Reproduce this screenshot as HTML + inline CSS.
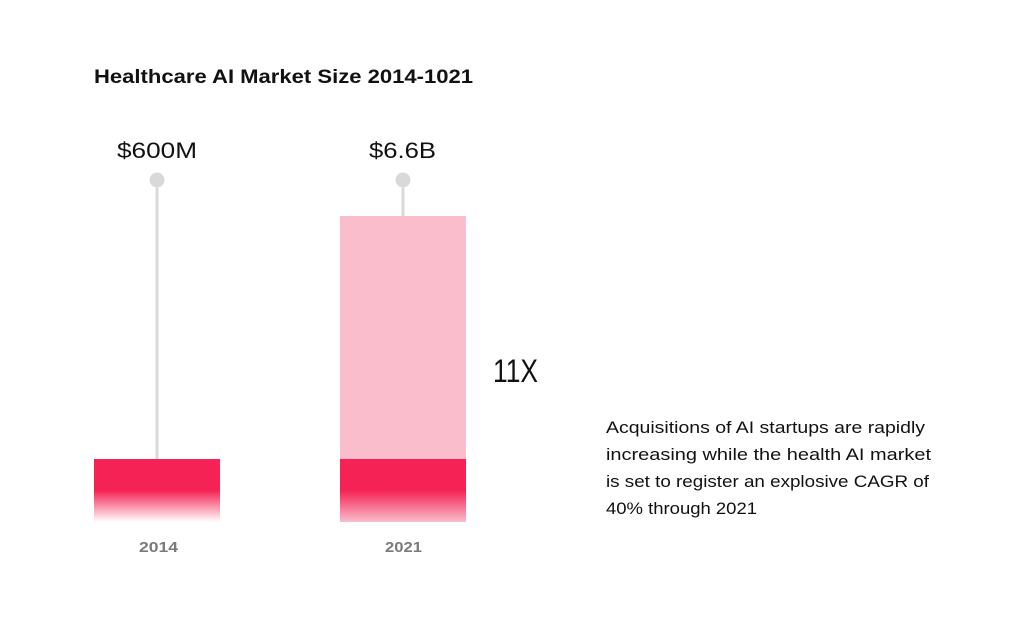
<!DOCTYPE html>
<html>
<head>
<meta charset="utf-8">
<style>
  html, body { margin: 0; padding: 0; background: #ffffff; }
  svg { display: block; }
  text { font-family: "Liberation Sans", "DejaVu Sans", sans-serif; }
</style>
</head>
<body>
<svg width="1024" height="622" viewBox="0 0 1024 622" xmlns="http://www.w3.org/2000/svg">
  <defs>
    <linearGradient id="fadeWhite" x1="0" y1="0" x2="0" y2="1">
      <stop offset="0" stop-color="#F52355"/>
      <stop offset="0.5" stop-color="#F52355"/>
      <stop offset="1" stop-color="#F52355" stop-opacity="0"/>
    </linearGradient>
  </defs>
  <rect width="1024" height="622" fill="#ffffff"/>

  <!-- Title -->
  <text x="94" y="83" font-size="19" font-weight="bold" fill="#111111" textLength="379" lengthAdjust="spacingAndGlyphs">Healthcare AI Market Size 2014-1021</text>

  <!-- Value labels -->
  <text x="117" y="158" font-size="22.5" fill="#111111" textLength="80" lengthAdjust="spacingAndGlyphs">$600M</text>
  <text x="369" y="158" font-size="22.5" fill="#111111" textLength="67" lengthAdjust="spacingAndGlyphs">$6.6B</text>

  <!-- Stems -->
  <rect x="155.5" y="180" width="3" height="280" fill="#D9D9D9"/>
  <circle cx="157" cy="180" r="7.5" fill="#D9D9D9"/>
  <rect x="401.5" y="180" width="3" height="37" fill="#D9D9D9"/>
  <circle cx="403" cy="180" r="7.5" fill="#D9D9D9"/>

  <!-- Bar 2014 -->
  <rect x="94" y="459" width="126" height="63" fill="url(#fadeWhite)"/>

  <!-- Bar 2021 -->
  <rect x="340" y="216" width="126" height="306" fill="#F9BDCB"/>
  <rect x="340" y="459" width="126" height="63" fill="url(#fadeWhite)"/>

  <!-- 11X -->
  <text x="493" y="382" font-size="32" fill="#111111" textLength="45" lengthAdjust="spacingAndGlyphs">11X</text>

  <!-- Paragraph -->
  <text x="606" y="433" font-size="17" fill="#111111" textLength="319" lengthAdjust="spacingAndGlyphs">Acquisitions of AI startups are rapidly</text>
  <text x="606" y="460" font-size="17" fill="#111111" textLength="325" lengthAdjust="spacingAndGlyphs">increasing while the health AI market</text>
  <text x="606" y="487" font-size="17" fill="#111111" textLength="323" lengthAdjust="spacingAndGlyphs">is set to register an explosive CAGR of</text>
  <text x="606" y="514" font-size="17" fill="#111111" textLength="151" lengthAdjust="spacingAndGlyphs">40% through 2021</text>

  <!-- Year labels -->
  <text x="139" y="552" font-size="15" font-weight="bold" fill="#7A7A7A" textLength="39" lengthAdjust="spacingAndGlyphs">2014</text>
  <text x="385" y="552" font-size="15" font-weight="bold" fill="#7A7A7A" textLength="37" lengthAdjust="spacingAndGlyphs">2021</text>
</svg>
</body>
</html>
